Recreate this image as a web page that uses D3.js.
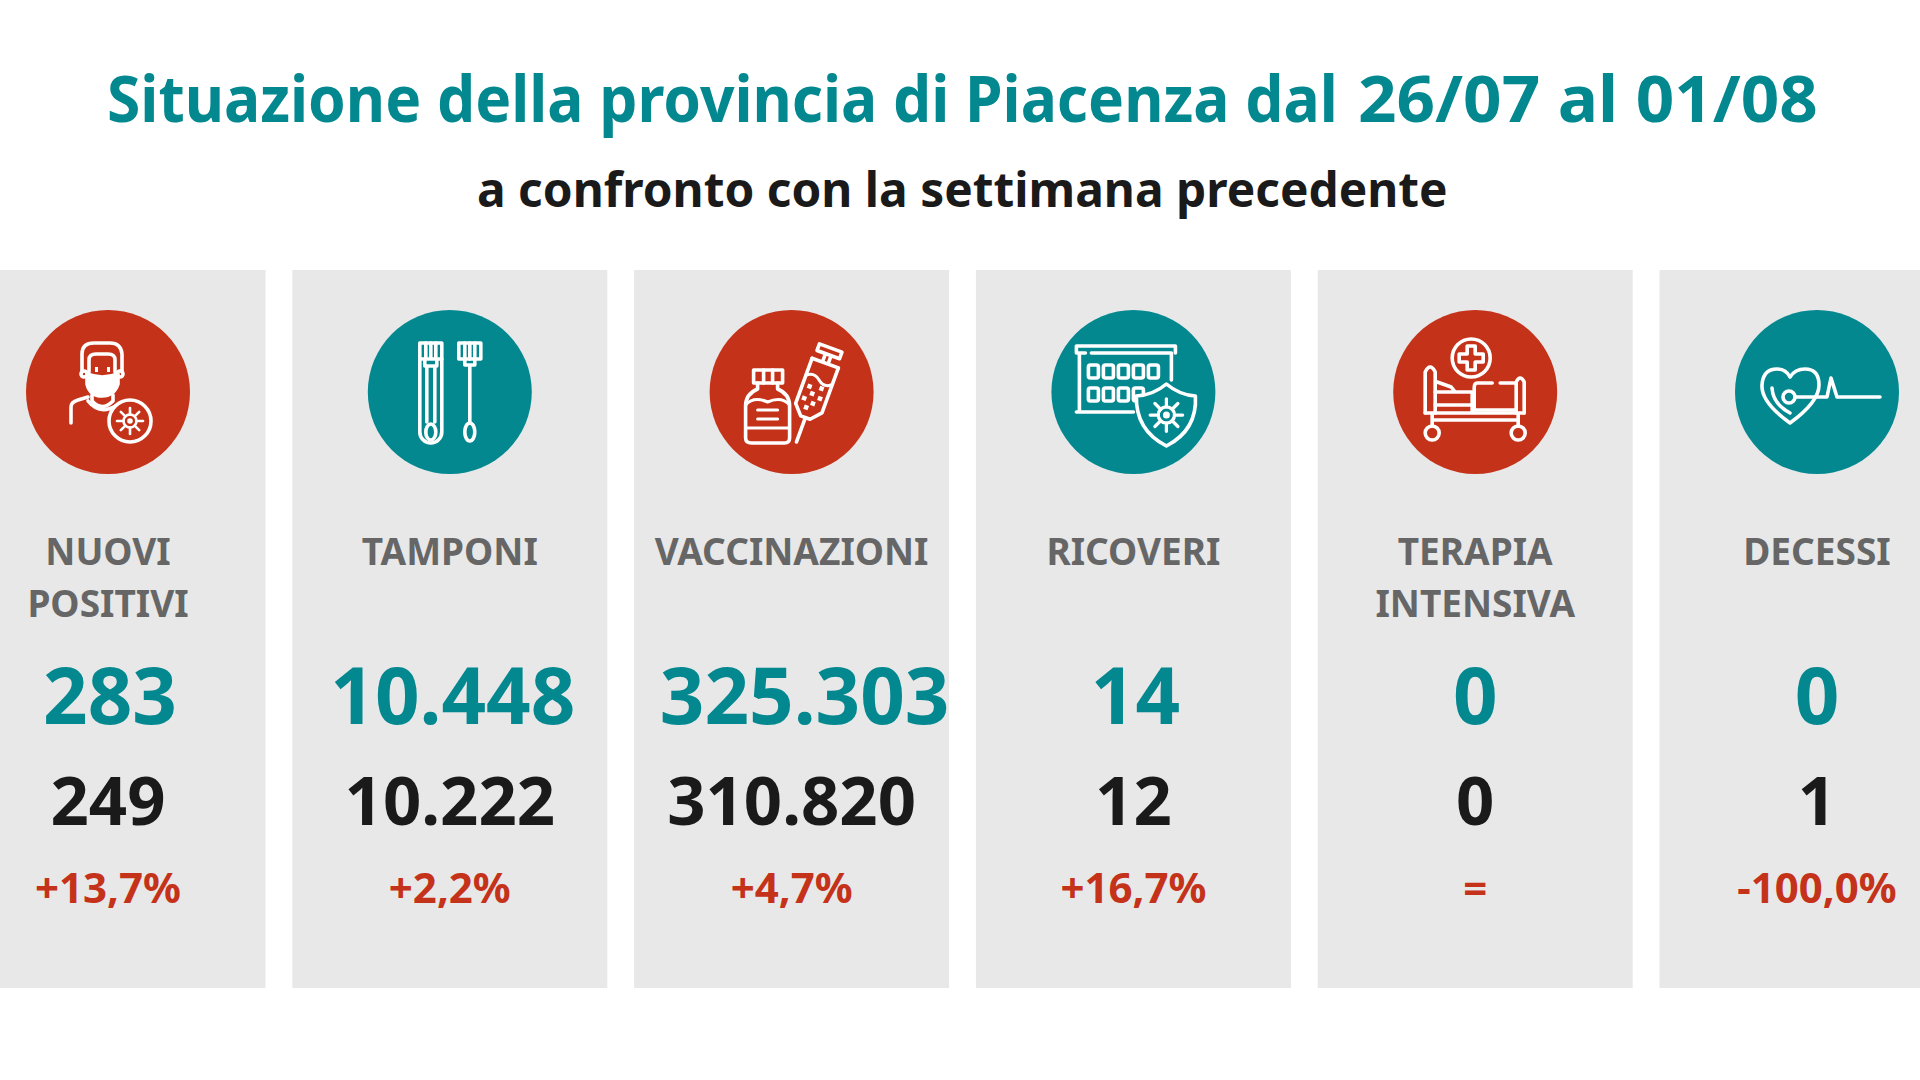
<!DOCTYPE html>
<html lang="it">
<head>
<meta charset="UTF-8">
<title>Situazione della provincia di Piacenza</title>
<script src="https://d3js.org/d3.v7.min.js"></script>
<style>
  html, body { margin: 0; padding: 0; background: #fff; }
  svg { display: block; }
  text { font-family: "Noto Sans", sans-serif; font-weight: 700; text-anchor: middle; }
</style>
</head>
<body>
<svg id="chart" width="1920" height="1080"></svg>
<script>
const titleParts = ['Situazione della provincia di Piacenza dal', '26/07 al 01/08'];
const subtitleText = 'a confronto con la settimana precedente';

const categories = ['NUOVI|POSITIVI', 'TAMPONI', 'VACCINAZIONI', 'RICOVERI', 'TERAPIA|INTENSIVA', 'DECESSI'];
const currentWeek = ['283', '10.448', '325.303', '14', '0', '0'];
const previousWeek = ['249', '10.222', '310.820', '12', '0', '1'];
const changes = ['+13,7%', '+2,2%', '+4,7%', '+16,7%', '=', '-100,0%'];
const iconNames = ['person', 'swab', 'vaccine', 'hospital', 'bed', 'heart'];

const red = '#c5321a', teal = '#038890', grey = '#e8e8e8';

const svg = d3.select('#chart');

// centres of the six cards, first and last run off the page
const cx = d3.scalePoint().domain(d3.range(6)).range([108, 1817]);
const cardW = 315, cardTop = 270, cardH = 718, iconR = 82, iconY = 392;
// the big numbers are not quite centred in the original
const bigShift = [2, 3, 13, 2, 0, 0];

// squeeze a heading to a given width, the original font is narrower than ours
function headline(str, x, y, width, size, colour) {
  const t = svg.append('text').attr('font-size', size).attr('fill', colour)
    .style('text-anchor', 'start').text(str);
  const k = width / t.node().getComputedTextLength();
  t.attr('transform', `translate(${x},${y}) scale(${k},1)`);
}

// date part of the title runs wider than the words, so fit the two parts apart
headline(titleParts[0], 107, 122, 1231, 64, teal);
headline(titleParts[1], 1358, 122, 460, 64, teal);
headline(subtitleText, 477, 207, 971, 48, '#1a1a1a');

// small virus glyph, used by a few icons
function virus(g, x, y, s) {
  const v = g.append('g').attr('transform', `translate(${x},${y}) scale(${s})`).attr('stroke-width', 2.6);
  v.append('circle').attr('r', 6.5);
  v.append('circle').attr('r', 1.5).attr('fill', '#fff');
  d3.range(8).forEach(i => {
    const a = i * Math.PI / 4;
    v.append('line').attr('x1', 6.5 * Math.cos(a)).attr('y1', 6.5 * Math.sin(a))
      .attr('x2', 13 * Math.cos(a)).attr('y2', 13 * Math.sin(a));
  });
}

const icons = {
  person(g) {
    g.append('path').attr('d', 'M-26,-20 V-38 Q-26,-49 -14,-49 H2 Q13,-49 14,-38 V-20');
    g.append('path').attr('d', 'M-19,-20 V-32 Q-19,-38 -12,-38 H0 Q7,-38 7,-32 V-20');
    g.append('circle').attr('cx', -24).attr('cy', -18).attr('r', 3);
    g.append('circle').attr('cx', 12).attr('cy', -18).attr('r', 3);
    g.append('rect').attr('x', -13).attr('y', -25).attr('width', 3).attr('height', 5).attr('fill', '#fff').attr('stroke', 'none');
    g.append('rect').attr('x', -1).attr('y', -25).attr('width', 3).attr('height', 5).attr('fill', '#fff').attr('stroke', 'none');
    g.append('path').attr('d', 'M-21,-18 Q-6,-12 10,-18 V-8 Q6,4 -6,4 Q-18,4 -21,-8 Z').attr('fill', '#fff');
    g.append('path').attr('d', 'M-16,3 V9 Q-6,20 5,9 V3');
    g.append('path').attr('d', 'M-37,31 V15 Q-37,10 -30,8 L-20,5 M-20,9 Q-8,24 9,13');
    g.append('circle').attr('cx', 22).attr('cy', 29).attr('r', 21).attr('fill', red);
    virus(g, 22, 29, 1);
  },
  swab(g) {
    g.append('path').attr('d', 'M-30,-49 H-8 V40 A11,11 0 0 1 -30,40 Z');
    g.append('path').attr('d', 'M-30,-33 H-8 M-24,-49 V-33 M-19,-49 V-33 M-14,-49 V-33 M-25,-33 V-26 H-13 V-33 M-23,-26 V30 M-15,-26 V30');
    g.append('ellipse').attr('cx', -19).attr('cy', 40).attr('rx', 5).attr('ry', 8);
    g.append('rect').attr('x', 9).attr('y', -49).attr('width', 22).attr('height', 16);
    g.append('path').attr('d', 'M15,-49 V-33 M20,-49 V-33 M25,-49 V-33 M15,-33 V-27 H25 V-33 M20,-27 V31');
    g.append('ellipse').attr('cx', 20).attr('cy', 40).attr('rx', 5).attr('ry', 9);
  },
  vaccine(g) {
    g.append('rect').attr('x', -38).attr('y', -22).attr('width', 29).attr('height', 13);
    g.append('path').attr('d', 'M-28,-22 V-9 M-19,-22 V-9');
    g.append('path').attr('d', 'M-34,-9 V-3 Q-46,2 -46,14 V46 Q-46,51 -40,51 H-7 Q-2,51 -2,46 V14 Q-2,2 -14,-3 V-9');
    g.append('path').attr('d', 'M-46,13 Q-38,4 -24,10 Q-10,4 -2,13 M-46,36 H-2 M-34,18 H-14 M-34,27 H-14').attr('stroke-width', 3);
    g.append('g').attr('transform', 'translate(22,3) rotate(20)').call(s => {
      s.append('path').attr('d', 'M-12,-50 H12 V-43 H-12 Z M-3,-43 V-34 M3,-43 V-34 M-14,-34 H14');
      s.append('path').attr('d', 'M-14,-34 V14 L-5,24 H5 L14,14 V-34 M0,24 V50');
      s.append('path').attr('d', 'M-14,-16 Q-7,-22 0,-16 T14,-16').attr('stroke-width', 3);
      [[-7, -7], [5, -9], [-2, -1], [7, 1], [-8, 6], [2, 8], [-3, 14]].forEach(d => {
        s.append('rect').attr('x', d[0] - 2).attr('y', d[1] - 2).attr('width', 4.5).attr('height', 4.5).attr('fill', '#fff').attr('stroke', 'none');
      });
    });
  },
  hospital(g) {
    g.append('path').attr('d', 'M-54,20 V-39 M-57,-39 V-46 H42 V-39 M-57,-39 H-48 M-42,-39 H38 M38,-39 V-12 M-57,20 H0');
    d3.range(5).forEach(i => g.append('rect').attr('x', -45 + i * 15).attr('y', -27).attr('width', 10).attr('height', 13).attr('rx', 2));
    d3.range(4).forEach(i => g.append('rect').attr('x', -45 + i * 15).attr('y', -4).attr('width', 10).attr('height', 13).attr('rx', 2));
    g.append('path').attr('d', 'M33,-8 Q46,3 62,4 Q64,38 33,54 Q2,38 3,4 Q20,3 33,-8 Z').attr('fill', teal);
    virus(g, 33, 23, 1.25);
  },
  bed(g) {
    g.append('circle').attr('cx', -4).attr('cy', -34).attr('r', 19);
    g.append('path').attr('d', 'M-8,-46 H0 V-38 H8 V-30 H0 V-22 H-8 V-30 H-16 V-38 H-8 Z');
    g.append('path').attr('d', 'M-50,21 V-20 Q-45,-30 -40,-20 V21');
    g.append('path').attr('d', 'M41,21 V-10 Q45,-18 49,-10 V21 M41,-9 H25 M17,-9 H2 Q-1,-9 -1,-4 V18 H41');
    g.append('path').attr('d', 'M-38,-10 L-24,-5 L-20,0 H-3 V21 M-40,0 H-20 M-40,13 H-3 M-50,21 H49 M-43,28 H43 M-43,21 V34 M43,21 V34');
    g.append('circle').attr('cx', -43).attr('cy', 41).attr('r', 7);
    g.append('circle').attr('cx', 43).attr('cy', 41).attr('r', 7);
  },
  heart(g) {
    g.append('path').attr('d', 'M-27,31 Q-56,10 -55,-7 Q-54,-23 -40,-23 Q-31,-23 -27,-15 Q-22,-23 -12,-23 Q2,-23 2,-7 Q2,10 -27,31 Z');
    g.append('path').attr('d', 'M-45,-4 Q-44,12 -27,21');
    g.append('circle').attr('cx', -28).attr('cy', 5).attr('r', 6);
    g.append('path').attr('d', 'M-22,5 H10 L14,-14 L20,5 H63');
  }
};

const card = svg.selectAll('g.card')
  .data(categories)
  .join('g')
  .attr('class', 'card')
  .attr('transform', (d, i) => `translate(${cx(i)},0)`);

card.append('rect')
  .attr('x', -cardW / 2).attr('y', cardTop)
  .attr('width', cardW).attr('height', cardH)
  .attr('fill', grey);

card.append('circle')
  .attr('cy', iconY).attr('r', iconR)
  .attr('fill', (d, i) => i % 2 ? teal : red);

card.append('g')
  .attr('transform', `translate(0,${iconY})`)
  .attr('fill', 'none').attr('stroke', '#fff').attr('stroke-width', 3.6)
  .attr('stroke-linecap', 'round').attr('stroke-linejoin', 'round')
  .each(function (d, i) { icons[iconNames[i]](d3.select(this)); });

card.each(function (d) {
  d.split('|').forEach((line, j) => {
    d3.select(this).append('text')
      .attr('y', 565 + j * 52).attr('font-size', 37).attr('fill', '#666')
      .text(line);
  });
});

card.append('text').attr('x', (d, i) => bigShift[i]).attr('y', 724).attr('font-size', 78).attr('fill', teal)
  .text((d, i) => currentWeek[i]);
card.append('text').attr('y', 825).attr('font-size', 67).attr('fill', '#1a1a1a')
  .text((d, i) => previousWeek[i]);
card.append('text').attr('y', 903).attr('font-size', 42).attr('fill', red)
  .text((d, i) => changes[i]);
</script>
</body>
</html>
